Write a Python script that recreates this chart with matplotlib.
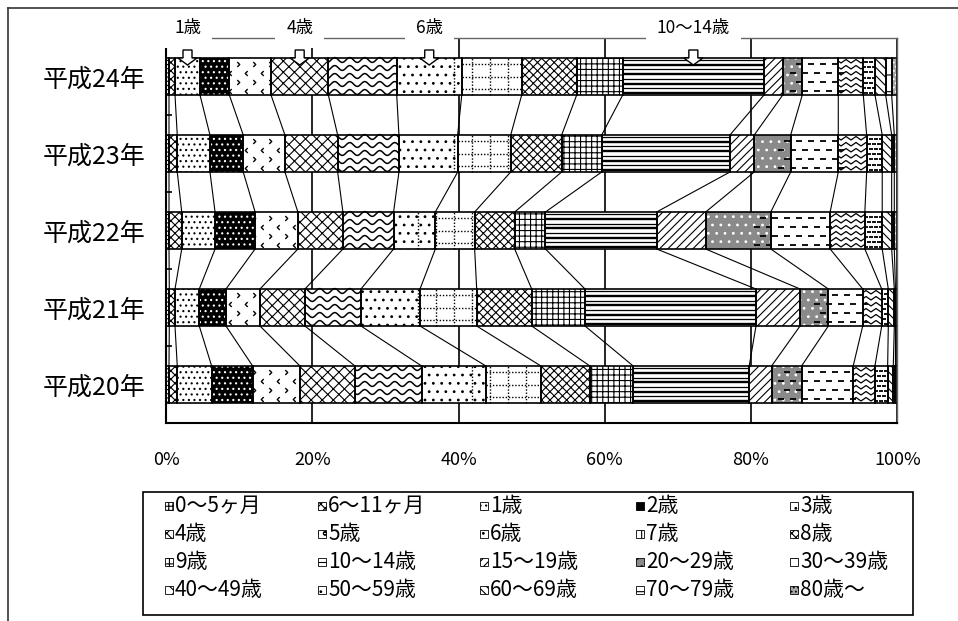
import numpy as np
import matplotlib.pyplot as plt
from matplotlib.patches import Rectangle, Polygon
from matplotlib.collections import LineCollection
from matplotlib.lines import Line2D
from matplotlib.path import Path

plt.rcParams['font.family'] = ['Noto Sans CJK JP', 'DejaVu Sans']
plt.rcParams['hatch.linewidth'] = 0.8

years = ['平成20年', '平成21年', '平成22年', '平成23年', '平成24年']
ages = ['0～5ヶ月', '6～11ヶ月', '1歳', '2歳', '3歳', '4歳', '5歳', '6歳', '7歳', '8歳',
        '9歳', '10～14歳', '15～19歳', '20～29歳', '30～39歳', '40～49歳', '50～59歳',
        '60～69歳', '70～79歳', '80歳～']

# 年齢階級別の構成比（%）
h20 = [0.41, 1.13, 4.70, 5.61, 6.47, 7.52, 9.12, 8.79, 7.52, 6.70,
       5.92, 15.86, 3.06, 4.10, 7.06, 2.97, 1.74, 0.77, 0.30, 0.25]
h21 = [0.45, 0.78, 3.32, 3.65, 4.65, 6.15, 7.66, 8.07, 7.75, 7.52,
       7.29, 23.38, 6.02, 3.87, 4.70, 2.60, 0.90, 0.82, 0.16, 0.25]
h22 = [0.41, 1.74, 4.55, 5.47, 5.84, 6.15, 6.92, 5.70, 5.37, 5.47,
       4.20, 15.18, 6.70, 8.89, 8.11, 4.74, 2.37, 1.29, 0.36, 0.41]
h23 = [0.41, 1.13, 4.47, 4.55, 5.70, 7.21, 8.38, 8.03, 7.25, 6.97,
       5.47, 17.54, 3.32, 4.98, 6.51, 3.88, 2.13, 1.29, 0.36, 0.41]
h24 = [0.41, 0.82, 3.42, 4.01, 5.70, 7.84, 9.35, 8.89, 8.20, 7.52,
       6.29, 19.32, 2.56, 2.68, 4.92, 3.42, 1.60, 1.46, 0.82, 0.77]

# 矢印で示す年齢と表示名
marked = [2, 5, 7, 11]
marked_labels = ['1歳', '4歳', '6歳', '10～14歳']

shares = np.array([h20, h21, h22, h23, h24], dtype=float)
shares = shares / shares.sum(axis=1, keepdims=True) * 100
cum = np.hstack([np.zeros((len(years), 1)), np.cumsum(shares, axis=1)])

# 描画スタイル: (塗り, ハッチ, ハッチ色, 独自模様)
styles = [
    ('white', '++++', 'black', None),
    ('white', 'xxxx', 'black', None),
    ('white', '...', 'black', None),
    ('black', '...', 'white', None),
    ('white', None, 'black', 'chevron'),
    ('white', 'xxx', 'black', None),
    ('white', None, 'black', 'wave'),
    ('white', '..', 'black', None),
    ('white', None, 'black', 'dotgrid'),
    ('white', 'xxxx', 'black', None),
    ('white', '+++', 'black', None),
    ('white', None, 'black', 'stripe'),
    ('white', '////', 'black', None),
    ('#8a8a8a', '..', 'white', None),
    ('white', None, 'black', 'dash'),
    ('white', None, 'black', 'zigzag'),
    ('white', None, 'black', 'minidash'),
    ('white', '\\\\\\\\', 'black', None),
    ('white', '-', 'black', None),
    ('#a8a8a8', '....', 'white', None),
]
legend_hatch = {'chevron': '..', 'wave': 'oo', 'dotgrid': '+', 'stripe': '--',
                'dash': '-', 'zigzag': 'xx', 'minidash': '..'}

# 開いた山形マーカー
LEFT_CHEVRON = Path([(0.5, 1), (-0.5, 0), (0.5, -1)],
                    [Path.MOVETO, Path.LINETO, Path.LINETO])
RIGHT_CHEVRON = Path([(-0.5, 1), (0.5, 0), (-0.5, -1)],
                     [Path.MOVETO, Path.LINETO, Path.LINETO])

W, H = 958, 621
AX_L, AX_R, AX_T, AX_B = 166, 897.3, 38, 423
PX_X = (AX_R - AX_L) / 100.0
PX_Y = (AX_B - AX_T) / 5.0
BAR_H = 37 / PX_Y

fig = plt.figure(figsize=(W / 100, H / 100), dpi=100)
ax = fig.add_axes([AX_L / W, 1 - AX_B / H, (AX_R - AX_L) / W, (AX_B - AX_T) / H])
ax.set_xlim(0, 100)
ax.set_ylim(-0.5, 4.5)
ypos = np.arange(len(years))


def dx(p):
    return p / PX_X


def dy(p):
    return p / PX_Y


def add_lines(rect, segs, lw, ls='solid'):
    lc = LineCollection(segs, colors='black', linewidths=lw, linestyles=ls, zorder=2.1)
    lc.set_clip_path(rect)
    ax.add_collection(lc)


def add_marks(rect, xs, ys, marker, ms, mew, color='black'):
    ln, = ax.plot(xs, ys, ls='none', marker=marker, ms=ms, mew=mew,
                  mec=color, mfc='none', zorder=2.1)
    ln.set_clip_path(rect)


def pattern(kind, rect):
    x0, y0 = rect.get_x(), rect.get_y()
    w, h = rect.get_width(), rect.get_height()
    x1, y1 = x0 + w, y0 + h
    if w <= 0:
        return
    xs = np.linspace(x0, x1, max(int(w * PX_X) * 3, 4))
    if kind == 'wave':
        segs = []
        for yy in np.arange(y0 + dy(3), y1, dy(8)):
            ys = yy + dy(2.4) * np.sin(2 * np.pi * xs * PX_X / 15)
            segs.append(np.column_stack([xs, ys]))
        add_lines(rect, segs, 1.1)
    elif kind == 'zigzag':
        segs = []
        tri = np.abs(((xs * PX_X) % 10) / 5 - 1)
        for yy in np.arange(y0 + dy(2), y1, dy(6)):
            segs.append(np.column_stack([xs, yy + dy(3.5) * tri]))
        add_lines(rect, segs, 0.9)
    elif kind == 'stripe':
        for k, yy in enumerate(np.arange(y0 + dy(2), y1, dy(4.7))):
            add_lines(rect, [[(x0, yy), (x1, yy)]], 1.7 if k % 2 == 0 else 0.9)
    elif kind == 'dotgrid':
        gx = np.arange(np.floor(x0 * PX_X / 18) * 18, x1 * PX_X, 18) / PX_X
        segs = [[(g, y0), (g, y1)] for g in gx]
        segs += [[(x0, yy), (x1, yy)] for yy in np.arange(y0 + dy(6), y1, dy(12.5))]
        add_lines(rect, segs, 1.0, (0, (1, 1.3)))
    elif kind == 'dash':
        segs = []
        for k, yy in enumerate(np.arange(y0 + dy(4), y1, dy(9))):
            off = 6 * (k % 2)
            for s in np.arange(np.floor(x0 * PX_X / 12) * 12 - 12 + off, x1 * PX_X, 12):
                segs.append([(s / PX_X, yy), ((s + 6) / PX_X, yy)])
        add_lines(rect, segs, 1.3)
    elif kind == 'chevron':
        for k, yy in enumerate(np.arange(y0 + dy(4), y1, dy(9))):
            off = 8 * (k % 2)
            cx = np.arange(np.floor(x0 * PX_X / 16) * 16 - 16 + off, x1 * PX_X, 16) / PX_X
            add_marks(rect, cx, np.full_like(cx, yy),
                      RIGHT_CHEVRON if k % 2 else LEFT_CHEVRON, 3.5, 1.0)
    elif kind == 'minidash':
        for k, yy in enumerate(np.arange(y0 + dy(2.5), y1, dy(5))):
            off = 2.5 * (k % 2)
            cx = np.arange(np.floor(x0 * PX_X / 5) * 5 - 5 + off, x1 * PX_X, 5) / PX_X
            add_marks(rect, cx, np.full_like(cx, yy), '_', 2.5, 1.3)


# 帯グラフ本体
for j, (face, hatch, hcolor, custom) in enumerate(styles):
    bars = ax.barh(ypos, shares[:, j], left=cum[:, j], height=BAR_H, color=face,
                   edgecolor=hcolor, linewidth=0, hatch=hatch, zorder=2)
    if custom:
        for rect in bars:
            pattern(custom, rect)
    ax.barh(ypos, shares[:, j], left=cum[:, j], height=BAR_H, fill=False,
            edgecolor='black', linewidth=1.2, zorder=2.3)

# 区分線
segs = []
for i in range(len(years) - 1):
    for k in range(1, len(ages) + 1):
        segs.append([(cum[i + 1, k], ypos[i + 1] - BAR_H / 2),
                     (cum[i, k], ypos[i] + BAR_H / 2)])
ax.add_collection(LineCollection(segs, colors='black', linewidths=0.8, zorder=1.5))

# 最新年の注目区分に矢印と見出し
top = len(years) - 1
for j, lab in zip(marked, marked_labels):
    xc = (cum[top, j] + cum[top, j + 1]) / 2
    ya = top + 0.5 - dy(50 - AX_T)
    yb = top + 0.5 - dy(58 - AX_T)
    yt = top + 0.5 - dy(65 - AX_T)
    pts = [(xc - dx(4.5), ya), (xc + dx(4.5), ya), (xc + dx(4.5), yb), (xc + dx(9.5), yb),
           (xc, yt), (xc - dx(9.5), yb), (xc - dx(4.5), yb)]
    ax.add_patch(Polygon(pts, closed=True, facecolor='white', edgecolor='black',
                         linewidth=1.0, zorder=5, clip_on=False))
    ax.text(xc, top + 0.5 + dy(AX_T - 28), lab, ha='center', va='center', fontsize=12.5,
            zorder=6, clip_on=False,
            bbox=dict(facecolor='white', edgecolor='none', pad=8))

# 軸まわり
ax.set_axisbelow(True)
ax.set_xticks(np.arange(0, 101, 20))
ax.set_xticklabels([f'{v}%' for v in range(0, 101, 20)], fontsize=13)
ax.xaxis.grid(True, color='black', linewidth=1.2)
ax.tick_params(axis='x', length=0, pad=20)
ax.set_yticks(ypos)
ax.set_yticklabels(years, fontsize=18)
ax.set_yticks(np.arange(0.5, len(years) - 1, 1), minor=True)
ax.tick_params(axis='y', which='major', length=0, pad=15)
ax.tick_params(axis='y', which='minor', direction='in', length=4.5, width=1.2)
for side in ['top', 'right']:
    ax.spines[side].set_color('#666666')
    ax.spines[side].set_linewidth(1.0)
for side in ['left', 'bottom']:
    ax.spines[side].set_linewidth(1.5)

# 凡例（5列×4行、左上から横方向に並べる）
leg_cols = [165, 318, 480, 636, 790]
leg_rows = [506, 534, 562, 590]
ICON = 8
fig.add_artist(Rectangle((143 / W, 1 - 615 / H), 770 / W, 123 / H, fill=False,
                         edgecolor='black', linewidth=1.2, transform=fig.transFigure))
for k, (label, (face, hatch, hcolor, custom)) in enumerate(zip(ages, styles)):
    r, c = divmod(k, 5)
    px, py = leg_cols[c], leg_rows[r]
    fig.add_artist(Rectangle((px / W, 1 - (py + ICON / 2) / H), ICON / W, ICON / H,
                             facecolor=face, hatch=legend_hatch.get(custom, hatch),
                             edgecolor='black', linewidth=0.6, transform=fig.transFigure))
    fig.text((px + ICON + 2) / W, 1 - py / H, label, fontsize=15, ha='left', va='center')

# 外枠
fig.add_artist(Line2D([8 / W, 1], [1 - 8 / H, 1 - 8 / H], color='#333333', lw=1.2))
fig.add_artist(Line2D([8 / W, 8 / W], [0, 1 - 8 / H], color='#333333', lw=1.2))

fig.savefig('out.png', dpi=100)
